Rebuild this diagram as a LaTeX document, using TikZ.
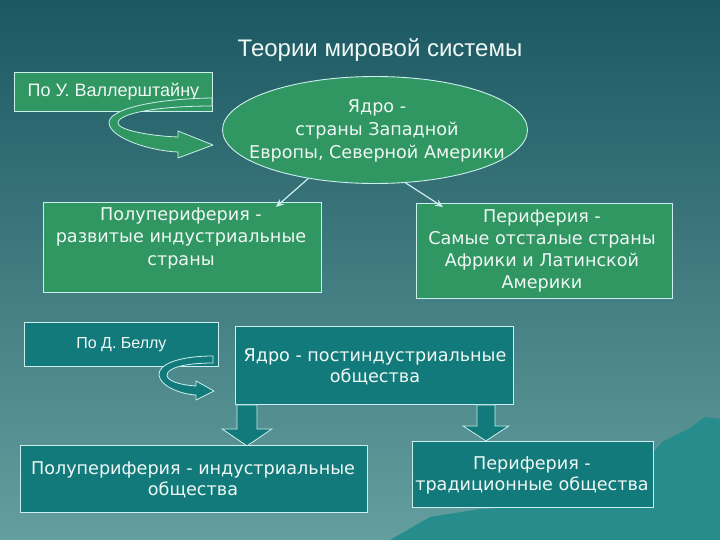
\documentclass[tikz,border=0pt]{standalone}
\usepackage{fontspec}
\setmainfont{DejaVu Sans}
\newfontfamily\arial{Liberation Sans}
\usetikzlibrary{shapes.geometric,arrows.meta,calc}
\definecolor{bgtop}{RGB}{28,88,98}
\definecolor{bgbot}{RGB}{100,158,158}
\definecolor{boxgreen}{RGB}{48,150,98}
\definecolor{boxteal}{RGB}{18,122,122}
\definecolor{edge}{RGB}{205,238,238}
\definecolor{txt}{RGB}{240,248,245}
\definecolor{mount}{RGB}{38,140,140}
\begin{document}
\begin{tikzpicture}[x=1pt,y=-1pt,
  every node/.style={text=txt},
  body/.style={font=\fontsize{17.6}{22.5}\selectfont, align=center, inner sep=0pt},
  gbox/.style={draw=edge, fill=boxgreen, line width=0.9pt, rectangle, inner sep=0pt, align=center, anchor=north west},
  tbox/.style={draw=edge, fill=boxteal, line width=0.9pt, rectangle, inner sep=0pt, align=center, anchor=north west},
  conn/.style={draw=edge, line width=1.2pt, -{Stealth[length=8pt,width=7pt]}},
  ribbon/.style={draw=edge, line width=0.8pt, line join=round},
  blk/.style={draw=edge, fill=boxteal, line width=0.8pt, line join=miter},
]
\useasboundingbox (0,0) rectangle (720,540);
\fill[top color=bgtop, bottom color=bgbot] (0,0) rectangle (720,540);
\fill[mount] (390,540) -- (430,517) -- (480,509) -- (560,505) -- (610,490) -- (640,468)
  -- (662,442) -- (690,428) -- (705,417) -- (720,419) -- (720,540) -- cycle;

\node[font=\arial\fontsize{24}{28}\selectfont] (title) at (380,50) {Теории мировой системы};

% Wallerstein
\node[gbox, minimum width=198pt, minimum height=39pt, font=\arial\fontsize{18}{20}\selectfont] (wall) at (14,72) {По У. Валлерштайну};
\node[ellipse, draw=edge, fill=boxgreen, line width=0.9pt, minimum width=305pt, minimum height=107pt, inner sep=0pt] (core1) at (375,130) {};
\node[body, font=\fontsize{17.6}{23}\selectfont] (core1t) at (377,131) {Ядро -\\страны Западной\\Европы, Северной Америки};
\path[ribbon, fill=boxgreen] (212,98) .. controls (150,99) and (108,110) .. (109,123)
  .. controls (110,138) and (150,151) .. (178,152) -- (178,158) -- (213,145) -- (178,131) -- (178,137)
  .. controls (150,136) and (118,130) .. (118,123) .. controls (118,113) and (160,106) .. (212,106) -- cycle;

\node[gbox, minimum width=278pt, minimum height=90pt] (semi1) at (43,202) {};
\node[body] (semi1t) at (181,238) {Полупериферия -\\развитые индустриальные\\страны};
\node[gbox, minimum width=256pt, minimum height=95pt] (per1) at (416,203) {};
\node[body, font=\fontsize{17.6}{22}\selectfont] (per1t) at (542,251) {Периферия -\\Самые отсталые страны\\Африки и Латинской\\Америки};

\draw[conn] (core1.216) -- ($(semi1.north east)+(-46,5)$);
\draw[conn] (core1.300) -- ($(per1.north west)+(27,4)$);

% Bell
\node[tbox, minimum width=194pt, minimum height=44pt, font=\arial\fontsize{16}{18}\selectfont] (bell) at (24,322) {По Д. Беллу};
\node[tbox, minimum width=278pt, minimum height=78pt] (core2) at (235,326) {};
\node[body, font=\fontsize{17.6}{21}\selectfont] (core2t) at (375,367) {Ядро - постиндустриальные\\общества};
\path[ribbon, fill=boxteal] (213,356) .. controls (180,356) and (158,364) .. (159,375)
  .. controls (160,386) and (180,394) .. (196,395) -- (196,400) -- (214,391) -- (196,381) -- (196,386)
  .. controls (180,385) and (167,381) .. (167,375) .. controls (167,368) and (185,363) .. (213,363) -- cycle;

\node[tbox, minimum width=347pt, minimum height=67pt] (semi2) at (20,445) {};
\node[body, font=\fontsize{17.6}{21}\selectfont] (semi2t) at (193,480) {Полупериферия - индустриальные\\общества};
\node[tbox, minimum width=241pt, minimum height=66pt] (per2) at (412,441) {};
\node[body, font=\fontsize{17.6}{21}\selectfont] (per2t) at (532,475) {Периферия -\\традиционные общества};

\draw[blk] ($(core2.south west)+(2,0)$) -- ++(20,0) -- ++(0,24) -- ++(15,0) -- ++(-25,17) -- ++(-25,-17) -- ++(15,0) -- cycle;
\draw[blk] ($(core2.south east)+(-37,0)$) -- ++(18,0) -- ++(0,21) -- ++(14,0) -- ++(-23,15) -- ++(-23,-15) -- ++(14,0) -- cycle;
\end{tikzpicture}
\end{document}
